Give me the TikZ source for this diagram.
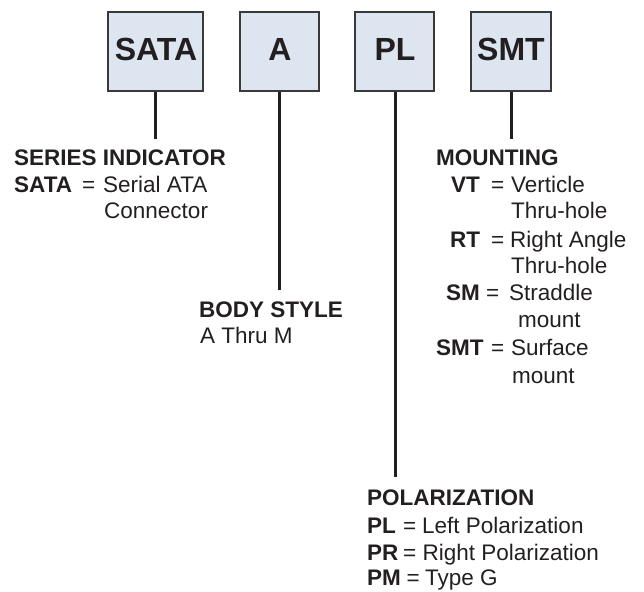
\documentclass[tikz,border=0pt]{standalone}
\usepackage{fontspec}
\setmainfont{Liberation Sans}
\definecolor{boxfill}{HTML}{DDE5F0}
\definecolor{boxline}{HTML}{3A3A3A}
\definecolor{ink}{HTML}{231F20}
\begin{document}
\begin{tikzpicture}[x=1pt,y=-1pt,
  codebox/.style={draw=boxline, line width=1.8pt, fill=boxfill, minimum height=79pt, inner sep=0pt},
  codetext/.style={text=ink, font=\fontsize{32}{36}\selectfont\bfseries, inner sep=0pt, anchor=base},
  conn/.style={draw=ink, line width=2.2pt},
  head/.style={text=ink, font=\fontsize{22.5}{27}\selectfont\bfseries, inner sep=0pt, anchor=base west},
  keyt/.style={text=ink, font=\fontsize{22.5}{27}\selectfont\bfseries, inner sep=0pt, anchor=base west},
  txt/.style={text=ink, font=\fontsize{22.5}{27}\selectfont, inner sep=0pt, anchor=base west}]
\useasboundingbox (0,0) rectangle (644,591);
% boxes
\node[codebox, minimum width=95pt] (sata) at (155.5,51.5) {};
\node[codebox, minimum width=79pt] (abox) at (279.5,51.5) {};
\node[codebox, minimum width=79pt] (plbox) at (394.5,51.5) {};
\node[codebox, minimum width=80pt] (smtbox) at (511,51.5) {};
\node[codetext] (sataT) at (156,61) {SATA};
\node[codetext] (aT) at (280,61) {A};
\node[codetext] (plT) at (395,61) {PL};
\node[codetext] (smtT) at (511,61) {SMT};
% connector ends
\coordinate (sataEnd) at (155.5,139);
\coordinate (aEnd) at (279.5,290);
\coordinate (plEnd) at (395.5,477);
\coordinate (smtEnd) at (511.5,139);
\draw[conn] (sata.south) -- (sataEnd);
\draw[conn] (abox.south) -- (aEnd);
\draw[conn] ([xshift=1pt]plbox.south) -- (plEnd);
\draw[conn] ([xshift=0.5pt]smtbox.south) -- (smtEnd);
% series indicator
\node[head] (seriesH) at (14,165) {SERIES INDICATOR};
\node[keyt] (sataK) at (14,192) {SATA};
\node[txt] (sataEq) at (82,192) {=};
\node[txt] (sataD) at (103,192) {Serial ATA};
\node[txt] (sataD2) at (104,218) {Connector};
% body style
\node[head] (bodyH) at (199,317) {BODY STYLE};
\node[txt] (bodyD) at (200,343) {A Thru M};
% mounting
\node[head] (mountH) at (436,165) {MOUNTING};
\node[keyt] (vtK) at (451,192) {VT};
\node[txt] (vtEq) at (491,192) {=};
\node[txt] (vtD) at (511,192) {Verticle};
\node[txt] (vtD2) at (511,218) {Thru-hole};
\node[keyt] (rtK) at (450,247) {RT};
\node[txt] (rtEq) at (491,247) {=};
\node[txt] (rtD) at (510,247) {Right Angle};
\node[txt] (rtD2) at (511,273) {Thru-hole};
\node[keyt] (smK) at (446,300) {SM};
\node[txt] (smEq) at (486,300) {=};
\node[txt] (smD) at (509,300) {Straddle};
\node[txt] (smD2) at (518,327) {mount};
\node[keyt] (smtK) at (436,355) {SMT};
\node[txt] (smtEq) at (491,355) {=};
\node[txt] (smtD) at (511,355) {Surface};
\node[txt] (smtD2) at (512,383) {mount};
% polarization
\node[head] (polH) at (367,505) {POLARIZATION};
\node[keyt] (plK) at (367,533) {PL};
\node[txt] (plEq) at (403,533) {=};
\node[txt] (plD) at (422,533) {Left Polarization};
\node[keyt] (prK) at (367,560) {PR};
\node[txt] (prEq) at (403,560) {=};
\node[txt] (prD) at (422.5,560) {Right Polarization};
\node[keyt] (pmK) at (367,585) {PM};
\node[txt] (pmEq) at (406.5,585) {=};
\node[txt] (pmD) at (425,585) {Type G};
\end{tikzpicture}
\end{document}
